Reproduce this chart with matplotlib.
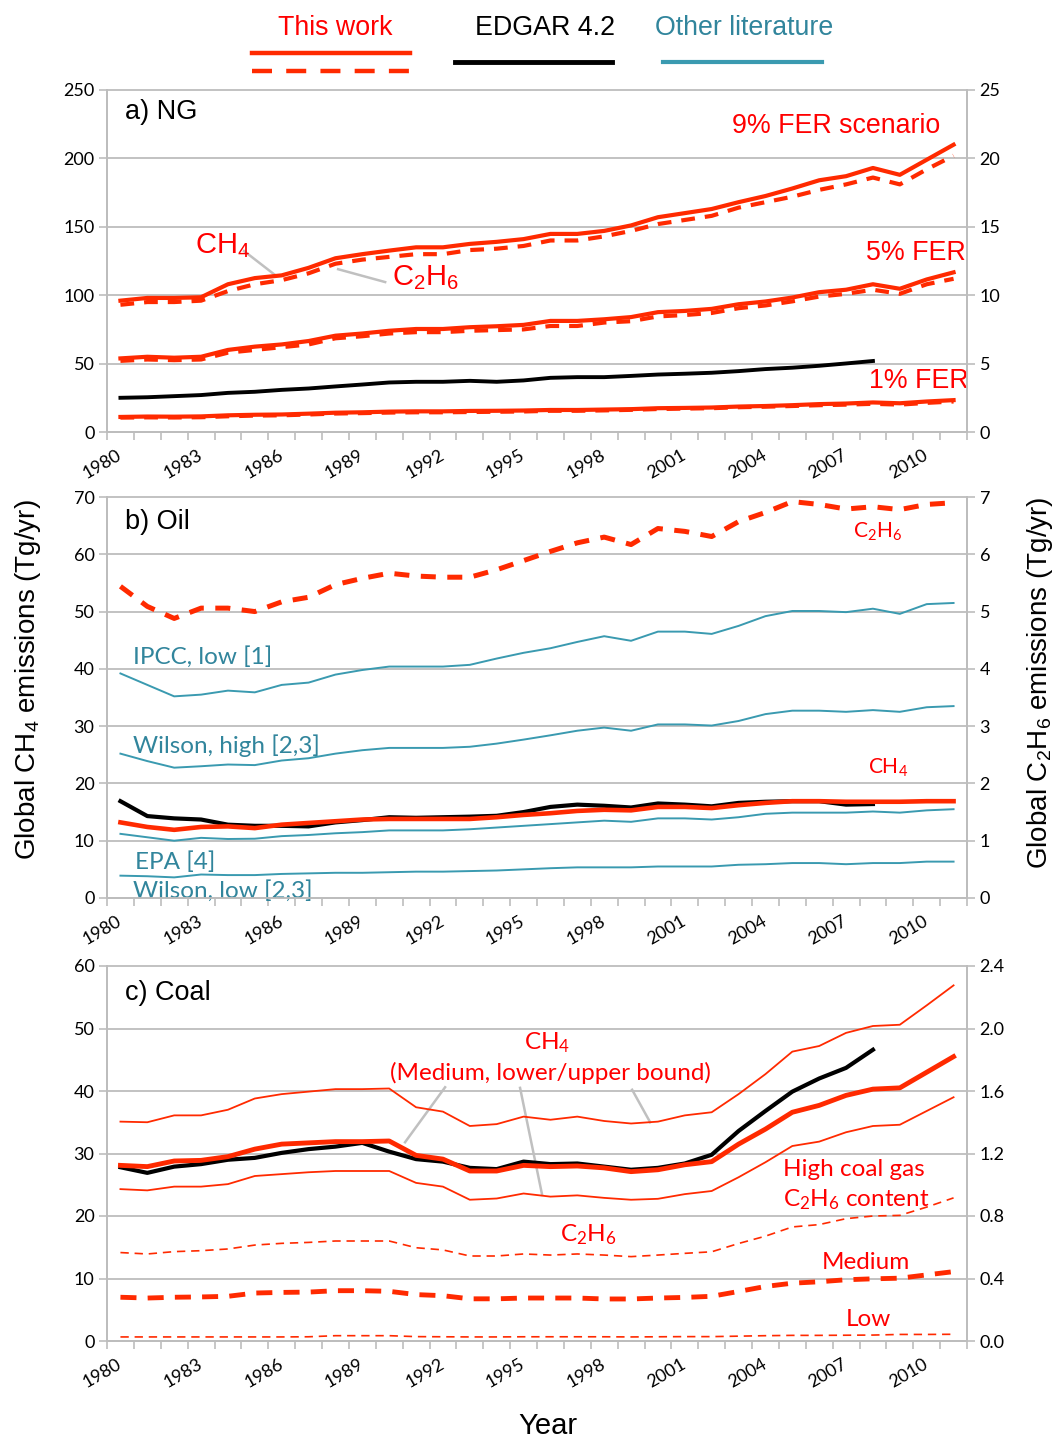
import numpy as np
import matplotlib
matplotlib.use("Agg")
import matplotlib.pyplot as plt
from matplotlib.lines import Line2D
from matplotlib.ticker import FormatStrFormatter

plt.rcParams['font.family'] = ['Lato', 'DejaVu Sans']
plt.rcParams['mathtext.default'] = 'regular'

years = list(range(1980, 2012))
nan = np.nan

# a) natural gas, CH4 left axis (Tg/yr), C2H6 right axis (Tg/yr)
ng_ch4_9 = [96, 98, 98, 98.5, 108, 112.5, 114.5, 120, 127, 130, 132.6, 135, 135, 137.5, 139, 141,
            144.8, 144.8, 147, 151, 157, 160, 163, 168, 172.5, 178, 184, 187, 193, 188, 199, 210]
ng_c2h6_9 = [9.3, 9.5, 9.5, 9.6, 10.3, 10.8, 11.1, 11.6, 12.3, 12.6, 12.8, 13.0, 13.0, 13.3, 13.4, 13.6,
             14.0, 14.0, 14.3, 14.7, 15.2, 15.5, 15.8, 16.4, 16.8, 17.2, 17.7, 18.1, 18.6, 18.1, 19.2, 20.2]
ng_ch4_5 = [53.8, 55, 54.3, 55, 60, 62.4, 64, 66.5, 70.4, 72, 74, 75.3, 75.3, 76.6, 77.3, 78.3,
            81.2, 81.2, 82.4, 84, 87.6, 88.5, 90, 93.4, 95.4, 98.3, 102.2, 104, 108, 104.7, 111.5, 116.7]
ng_c2h6_5 = [5.2, 5.3, 5.25, 5.3, 5.8, 6.0, 6.2, 6.4, 6.85, 7.0, 7.2, 7.3, 7.3, 7.4, 7.45, 7.5,
             7.75, 7.75, 8.0, 8.1, 8.45, 8.55, 8.7, 9.05, 9.25, 9.55, 9.9, 10.1, 10.4, 10.1, 10.8, 11.2]
ng_ch4_1 = [11, 11.3, 11.2, 11.4, 12.2, 12.6, 12.8, 13.4, 14.1, 14.4, 14.9, 15.1, 15.1, 15.4, 15.5, 15.7,
            16.1, 16.1, 16.4, 16.7, 17.4, 17.6, 17.9, 18.6, 19.0, 19.6, 20.4, 20.8, 21.6, 21.0, 22.3, 23.3]
ng_c2h6_1 = [1.05, 1.07, 1.06, 1.08, 1.15, 1.2, 1.22, 1.28, 1.35, 1.38, 1.42, 1.44, 1.44, 1.46, 1.48, 1.5,
             1.55, 1.55, 1.58, 1.62, 1.68, 1.71, 1.74, 1.81, 1.85, 1.9, 1.96, 2.0, 2.06, 2.0, 2.13, 2.23]
ng_edgar = [25, 25.4, 26.2, 27, 28.6, 29.4, 30.8, 31.8, 33.3, 34.7, 36.2, 36.7, 36.7, 37.4, 36.7, 37.7,
            39.6, 40.1, 40.1, 41, 42, 42.6, 43.3, 44.5, 46, 47, 48.4, 50.1, 51.9, nan, nan, nan]

# b) oil
oil_c2h6 = [5.44, 5.09, 4.88, 5.06, 5.06, 5.0, 5.17, 5.25, 5.47, 5.58, 5.67, 5.62, 5.6, 5.6, 5.73, 5.89,
            6.05, 6.2, 6.3, 6.17, 6.45, 6.4, 6.31, 6.57, 6.73, 6.92, 6.87, 6.79, 6.83, 6.78, 6.87, 6.9]
oil_ch4 = [13.2, 12.4, 11.9, 12.4, 12.5, 12.2, 12.8, 13.1, 13.4, 13.7, 13.8, 13.8, 13.8, 13.8, 14.1, 14.5,
           14.8, 15.2, 15.4, 15.3, 15.9, 15.9, 15.7, 16.2, 16.6, 16.9, 16.9, 16.8, 16.8, 16.8, 16.9, 16.9]
oil_edgar = [16.9, 14.3, 13.9, 13.7, 12.8, 12.6, 12.6, 12.5, 13.2, 13.6, 14.1, 14.0, 14.1, 14.2, 14.35, 15.0,
             15.9, 16.3, 16.1, 15.8, 16.5, 16.3, 16.0, 16.6, 16.8, 16.9, 16.9, 16.3, 16.4, nan, nan, nan]
ipcc_low = [39.2, 37.2, 35.2, 35.5, 36.2, 35.9, 37.2, 37.6, 39.0, 39.8, 40.4, 40.4, 40.4, 40.7, 41.8, 42.8,
            43.6, 44.7, 45.7, 44.9, 46.5, 46.5, 46.1, 47.5, 49.2, 50.1, 50.1, 49.9, 50.5, 49.6, 51.3, 51.5]
wilson_high = [25.2, 23.9, 22.75, 23.0, 23.3, 23.2, 24.0, 24.4, 25.2, 25.8, 26.2, 26.2, 26.2, 26.4, 26.95, 27.65,
               28.4, 29.2, 29.75, 29.2, 30.3, 30.3, 30.1, 30.9, 32.1, 32.7, 32.7, 32.5, 32.8, 32.5, 33.3, 33.5]
epa = [11.2, 10.6, 10.0, 10.5, 10.3, 10.35, 10.8, 11.0, 11.3, 11.5, 11.8, 11.8, 11.8, 12.0, 12.3, 12.6,
       12.9, 13.2, 13.5, 13.3, 13.9, 13.9, 13.7, 14.1, 14.7, 14.9, 14.9, 14.9, 15.1, 14.9, 15.3, 15.5]
wilson_low = [3.9, 3.8, 3.6, 4.1, 4.0, 4.0, 4.2, 4.3, 4.4, 4.4, 4.5, 4.6, 4.6, 4.7, 4.8, 5.0,
              5.2, 5.35, 5.35, 5.35, 5.5, 5.5, 5.5, 5.8, 5.9, 6.1, 6.1, 5.9, 6.1, 6.1, 6.35, 6.35]

# c) coal
coal_ch4_med = [28.1, 27.9, 28.8, 28.9, 29.5, 30.7, 31.5, 31.7, 31.9, 31.9, 32.0, 29.7, 29.1, 27.2, 27.2, 28.1,
                27.9, 28.0, 27.7, 27.1, 27.4, 28.2, 28.7, 31.5, 33.9, 36.6, 37.7, 39.3, 40.3, 40.5, 43.0, 45.5]
coal_ch4_upper = [35.1, 35.0, 36.1, 36.1, 37.0, 38.8, 39.5, 39.9, 40.3, 40.3, 40.4, 37.4, 36.7, 34.4, 34.7, 35.9,
                  35.4, 35.9, 35.2, 34.8, 35.1, 36.1, 36.6, 39.5, 42.7, 46.3, 47.2, 49.3, 50.4, 50.6, 53.7, 56.9]
coal_ch4_lower = [24.3, 24.1, 24.7, 24.7, 25.1, 26.4, 26.7, 27.0, 27.2, 27.2, 27.2, 25.3, 24.7, 22.6, 22.8, 23.6,
                  23.1, 23.3, 22.9, 22.6, 22.75, 23.5, 24.0, 26.2, 28.6, 31.2, 31.9, 33.4, 34.4, 34.6, 36.8, 39.0]
coal_edgar = [27.8, 26.9, 27.9, 28.3, 29.0, 29.3, 30.1, 30.7, 31.1, 31.7, 30.3, 29.1, 28.7, 27.7, 27.5, 28.7,
              28.3, 28.4, 27.9, 27.4, 27.7, 28.4, 29.8, 33.6, 36.8, 39.9, 42.0, 43.7, 46.6, nan, nan, nan]
coal_c2h6_high = [0.566, 0.557, 0.572, 0.578, 0.589, 0.614, 0.625, 0.631, 0.64, 0.64, 0.64, 0.597, 0.583, 0.544, 0.544, 0.557,
                  0.55, 0.557, 0.55, 0.54, 0.55, 0.561, 0.571, 0.624, 0.671, 0.73, 0.745, 0.783, 0.8, 0.804, 0.857, 0.916]
coal_c2h6_med = [0.28, 0.275, 0.28, 0.282, 0.286, 0.307, 0.311, 0.313, 0.322, 0.322, 0.318, 0.297, 0.29, 0.27, 0.27, 0.275,
                 0.275, 0.275, 0.269, 0.269, 0.275, 0.279, 0.286, 0.317, 0.349, 0.37, 0.379, 0.392, 0.398, 0.402, 0.423, 0.444]
coal_c2h6_low = [0.026, 0.026, 0.026, 0.026, 0.026, 0.026, 0.026, 0.027, 0.034, 0.034, 0.034, 0.028, 0.027, 0.026, 0.026, 0.027,
                 0.027, 0.027, 0.027, 0.026, 0.027, 0.028, 0.028, 0.031, 0.034, 0.036, 0.036, 0.037, 0.038, 0.042, 0.042, 0.043]

RED = '#FF2A00'
TRED = '#FF0000'
TEAL = '#3A9AB0'
TTEAL = '#31859C'
GRID = '#BDBDBD'
ARIAL = ['Liberation Sans', 'DejaVu Sans']

W, H = 1060, 1440
fig = plt.figure(figsize=(W / 100, H / 100), dpi=100)
x = np.arange(len(years))


def make_panel(top, bottom, ymax, ystep, ymax2, ystep2, fmt2):
    ax = fig.add_axes([107 / W, 1 - bottom / H, 860 / W, (bottom - top) / H])
    ax2 = ax.twinx()
    ax.set_xlim(-0.5, len(years) - 0.5)
    ax.set_ylim(0, ymax)
    ax.set_yticks(np.arange(0, ymax + ystep / 2, ystep))
    ax2.set_ylim(0, ymax2)
    ax2.set_yticks(np.arange(0, ymax2 + ystep2 / 2, ystep2))
    ax2.yaxis.set_major_formatter(FormatStrFormatter(fmt2))
    ax.grid(axis='y', color=GRID, lw=1.3, clip_on=False)
    ax.set_axisbelow(True)
    ax.set_xticks(x[::3])
    ax.set_xticklabels([str(y) for y in years[::3]], rotation=30, ha='right',
                       va='center', rotation_mode='anchor')
    ax.set_xticks(np.arange(-0.5, len(years)), minor=True)
    ax.tick_params(axis='x', which='major', length=0, pad=16, labelsize=13)
    ax.tick_params(axis='x', which='minor', length=6, width=1.2, color=GRID)
    ax.tick_params(axis='y', length=6, width=1.2, color=GRID, labelsize=13, pad=3)
    ax2.tick_params(axis='y', length=6, width=1.2, color=GRID, labelsize=13, pad=3)
    for a in (ax, ax2):
        a.spines['top'].set_visible(False)
        for s in ('left', 'right', 'bottom'):
            a.spines[s].set_color(GRID)
            a.spines[s].set_linewidth(1.3)
    return ax, ax2


def pointer(ax, xs, ys):
    ax.plot(xs, ys, color='#C0C0C0', lw=1.8, zorder=1)


# ---- a) NG
ax, ax2 = make_panel(90, 432, 250, 50, 25, 5, '%d')
for ch4, c2h6 in ((ng_ch4_9, ng_c2h6_9), (ng_ch4_5, ng_c2h6_5), (ng_ch4_1, ng_c2h6_1)):
    ax.plot(x, ch4, color=RED, lw=3)
    ax2.plot(x, c2h6, color=RED, lw=3, dashes=(3.3, 2.4))
ax.plot(x, ng_edgar, color='black', lw=2.8)
ax.text(0.17, 234, 'a) NG', fontsize=19.5, family=ARIAL, va='center')
ax.text(2.78, 136, '$\\mathregular{CH_4}$', fontsize=21, family=ARIAL, color=TRED, va='center')
ax.text(10.1, 113, '$\\mathregular{C_2H_6}$', fontsize=21, family=ARIAL, color=TRED, va='center')
ax.text(30.5, 224, '9% FER scenario', fontsize=19.3, family=ARIAL, color=TRED, ha='right', va='center')
ax.text(31.45, 131, '5% FER', fontsize=19.3, family=ARIAL, color=TRED, ha='right', va='center')
ax.text(31.55, 37, '1% FER', fontsize=19.3, family=ARIAL, color=TRED, ha='right', va='center')
pointer(ax, [4.6, 5.75], [132.3, 114.8])
pointer(ax, [8.1, 9.85], [119, 109.6])

# ---- b) Oil
ax, ax2 = make_panel(497, 898, 70, 10, 7, 1, '%d')
for s in (ipcc_low, wilson_high, epa, wilson_low):
    ax.plot(x, s, color=TEAL, lw=1.4)
ax.plot(x, oil_edgar, color='black', lw=3)
ax.plot(x, oil_ch4, color=RED, lw=3.3)
ax2.plot(x, oil_c2h6, color=RED, lw=3.6, dashes=(3, 2.3))
ax.text(0.17, 65.6, 'b) Oil', fontsize=19.5, family=ARIAL, va='center')
ax.text(27.26, 63.9, '$\\mathregular{C_2H_6}$', fontsize=15, color=TRED, va='center')
ax.text(27.8, 22.7, '$\\mathregular{CH_4}$', fontsize=15, color=TRED, va='center')
ax.text(0.47, 42.0, 'IPCC, low [1]', fontsize=17.5, color=TTEAL, va='center')
ax.text(0.47, 26.6, 'Wilson, high [2,3]', fontsize=17.5, color=TTEAL, va='center')
ax.text(0.54, 6.3, 'EPA [4]', fontsize=17.5, color=TTEAL, va='center')
ax.text(0.47, 1.3, 'Wilson, low [2,3]', fontsize=17.5, color=TTEAL, va='center')

# ---- c) Coal
ax, ax2 = make_panel(966, 1341, 60, 10, 2.4, 0.4, '%.1f')
ax.plot(x, coal_ch4_upper, color=RED, lw=1.3)
ax.plot(x, coal_ch4_lower, color=RED, lw=1.3)
ax.plot(x, coal_edgar, color='black', lw=3)
ax.plot(x, coal_ch4_med, color=RED, lw=3.5)
ax2.plot(x, coal_c2h6_high, color=RED, lw=1.2, dashes=(5, 3.5))
ax2.plot(x, coal_c2h6_med, color=RED, lw=3.5, dashes=(3.3, 2.3))
ax2.plot(x, coal_c2h6_low, color=RED, lw=1.2, dashes=(5, 3.5))
ax.text(0.17, 55.7, 'c) Coal', fontsize=19.5, family=ARIAL, va='center')
ax.text(15.87, 47.8, '$\\mathregular{CH_4}$', fontsize=17.5, color=TRED, ha='center', va='center')
ax.text(15.99, 42.9, '(Medium, lower/upper bound)', fontsize=17.5, color=TRED, ha='center', va='center')
ax.text(24.65, 27.4, 'High coal gas', fontsize=17.5, color=TRED, va='center')
ax.text(24.65, 22.6, '$\\mathregular{C_2H_6}$ content', fontsize=17.5, color=TRED, va='center')
ax.text(16.35, 17.0, '$\\mathregular{C_2H_6}$', fontsize=17.5, color=TRED, va='center')
ax.text(26.1, 12.6, 'Medium', fontsize=17.5, color=TRED, va='center')
ax.text(27.0, 3.4, 'Low', fontsize=17.5, color=TRED, va='center')
pointer(ax, [12.08, 10.59], [40.6, 31.8])
pointer(ax, [14.87, 15.69], [40.5, 23.4])
pointer(ax, [19.04, 19.71], [40.2, 35.0])

# ---- axis titles
fig.text(28 / W, 1 - 680 / H, 'Global $\\mathregular{CH_4}$ emissions (Tg/yr)', rotation=90,
         fontsize=20, family=ARIAL, ha='center', va='center')
fig.text(1040 / W, 1 - 683 / H, 'Global $\\mathregular{C_2H_6}$ emissions (Tg/yr)', rotation=90,
         fontsize=20, family=ARIAL, ha='center', va='center')
fig.text(548 / W, 1 - 1426 / H, 'Year', fontsize=21, family=ARIAL, ha='center', va='center')

# ---- legend on top
def fig_line(x0, x1, y, **kw):
    fig.add_artist(Line2D([x0 / W, x1 / W], [1 - y / H, 1 - y / H], transform=fig.transFigure, **kw))

fig.text(335 / W, 1 - 28 / H, 'This work', fontsize=19.3, family=ARIAL, color=TRED, ha='center', va='center')
fig_line(252, 410, 53, color=RED, lw=3.2)
fig_line(252, 410, 71, color=RED, lw=3.2, dashes=(4.5, 3.2))
fig.text(545 / W, 1 - 28 / H, 'EDGAR 4.2', fontsize=19.3, family=ARIAL, color='black', ha='center', va='center')
fig_line(455, 612, 62, color='black', lw=3.5)
fig.text(744 / W, 1 - 28 / H, 'Other literature', fontsize=19.3, family=ARIAL, color=TTEAL, ha='center', va='center')
fig_line(663, 822, 62, color=TEAL, lw=3)

fig.savefig('out.png', dpi=100)
